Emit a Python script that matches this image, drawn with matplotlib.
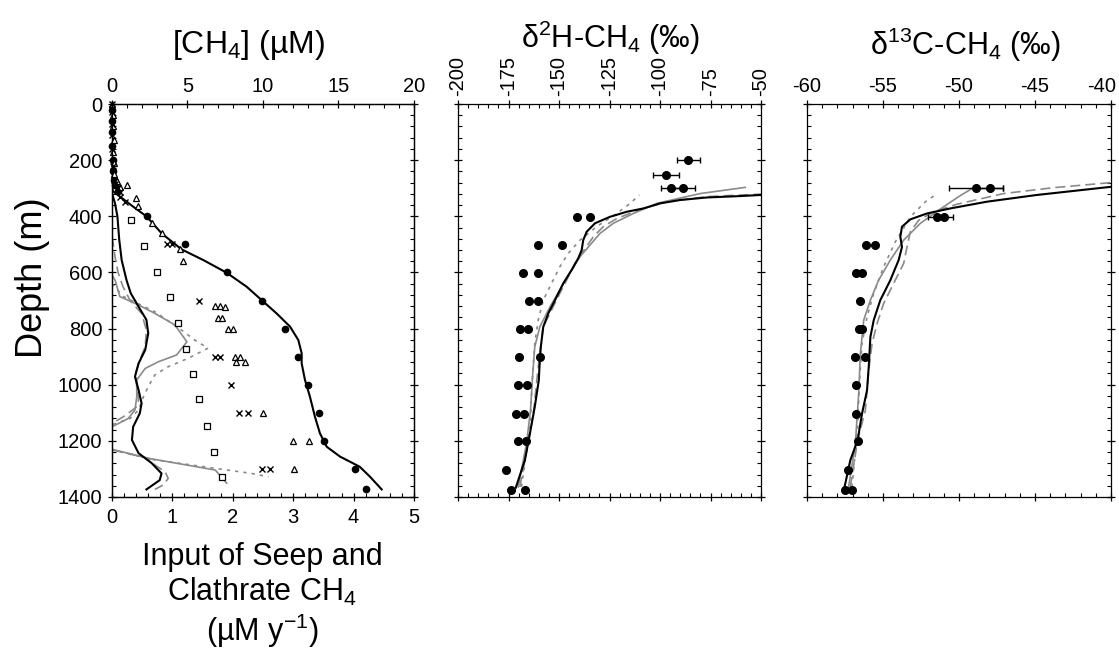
import numpy as np
import matplotlib
matplotlib.use("Agg")
import matplotlib.pyplot as plt
import matplotlib.transforms as mtransforms
from matplotlib.ticker import MultipleLocator

plt.rcParams['font.family'] = ['Liberation Sans', 'DejaVu Sans']
plt.rcParams['mathtext.default'] = 'regular'
plt.rcParams['axes.unicode_minus'] = False

GRAY = '#8a8a8a'

# ---------------- panel 1 : [CH4] (top axis, uM) ----------------
circ_d = [20, 60, 100, 150, 200, 240, 270, 290, 310,
          400, 500, 600, 700, 800, 900, 1000, 1100, 1200, 1300, 1370]
circ_c = [0.02, 0.03, 0.02, 0.03, 0.05, 0.05, 0.1, 0.2, 0.4,
          2.3, 4.83, 7.6, 9.95, 11.46, 12.3, 13.0, 13.7, 14.06, 16.1, 16.8]

tri_d = [0, 40, 80, 130, 170, 210, 250, 275, 295,
         289, 336, 362, 423, 461, 518, 559, 718, 718, 722, 761, 761,
         803, 803, 902, 902, 918, 920, 1102, 1200, 1200, 1301]
tri_c = [0.02, 0.05, 0.05, 0.1, 0.08, 0.1, 0.1, 0.3, 0.5,
         1.01, 1.57, 1.74, 2.63, 3.29, 4.5, 4.68, 6.82, 7.15, 7.5, 7.04, 7.26,
         7.7, 8.0, 8.15, 8.48, 8.19, 8.8, 9.98, 11.96, 13.07, 12.07]

crs_d = [0, 30, 70, 110, 160, 220, 270, 285, 300, 315, 330, 348,
         500, 500, 700, 902, 902, 1001, 1102, 1102, 1301, 1301]
crs_c = [0.0, 0.02, 0.03, 0.02, 0.03, 0.05, 0.1, 0.2, 0.4, 0.5, 0.53, 0.86,
         3.62, 3.95, 5.74, 6.82, 7.15, 7.88, 8.43, 8.99, 9.91, 10.46]

sq_d = [413, 505, 597, 686, 779, 872, 962, 1052, 1146, 1239, 1328]
sq_c = [1.26, 2.12, 3.0, 3.84, 4.39, 4.9, 5.36, 5.78, 6.29, 6.77, 7.26]

conc_d = [300, 312, 330, 366, 401, 461, 518, 556, 601, 651, 701, 746, 793,
          841, 888, 924, 983, 1043, 1114, 1173, 1221, 1256, 1292, 1328, 1373]
conc_c = [0, 0.09, 0.53, 1.41, 2.3, 3.29, 4.61, 6.05, 7.59, 8.92, 9.96, 10.9,
          11.79, 12.34, 12.56, 12.56, 12.78, 13.11, 13.44, 13.77, 14.22, 15.1,
          16.4, 17.09, 17.86]

# input of seep and clathrate CH4 (bottom axis, uM/y)
inp_blk_d = [318, 354, 401, 484, 556, 627, 674, 722, 769, 817, 876, 924, 971,
             1019, 1066, 1102, 1150, 1197, 1244, 1280, 1316, 1340, 1373]
inp_blk_v = [0, 0.05, 0.09, 0.12, 0.16, 0.24, 0.31, 0.44, 0.57, 0.60, 0.55,
             0.44, 0.38, 0.44, 0.49, 0.46, 0.35, 0.33, 0.44, 0.66, 0.82, 0.79, 0.57]

inp_sol1_d = [609, 627, 686, 716, 746, 787, 847, 894, 918, 942, 983, 1043, 1090, 1120, 1150]
inp_sol1_v = [0, 0.05, 0.13, 0.44, 0.71, 1.04, 1.24, 1.07, 0.77, 0.55, 0.41, 0.41, 0.38, 0.27, 0]
inp_sol2_d = [1230, 1262, 1304, 1351]
inp_sol2_v = [0, 0.6, 1.71, 1.9]

inp_dot1_d = [640, 686, 740, 805, 841, 870, 906, 936, 965, 1007, 1043, 1090, 1120, 1143]
inp_dot1_v = [0, 0.19, 0.71, 1.15, 1.37, 1.59, 1.26, 0.93, 0.71, 0.60, 0.52, 0.44, 0.3, 0.0]
inp_dot2_d = [1232, 1266, 1298, 1316, 1328]
inp_dot2_v = [0, 0.66, 1.71, 2.31, 2.59]

inp_dsh1_d = [420, 484, 544, 600, 650, 700, 746, 805, 864, 912, 960, 1007, 1055, 1080, 1110, 1138]
inp_dsh1_v = [0, 0.01, 0.05, 0.10, 0.18, 0.30, 0.49, 0.57, 0.55, 0.46, 0.39, 0.41, 0.44, 0.40, 0.22, 0]
inp_dsh2_d = [1232, 1262, 1286, 1310, 1334, 1357, 1373]
inp_dsh2_v = [0, 0.6, 0.71, 0.88, 0.93, 0.85, 0.71]

# ---------------- panel 2 : d2H-CH4 ----------------
d2h_d = [200, 253, 301, 301, 402, 402, 503, 503, 601, 601, 701, 701, 801, 801,
         901, 901, 1002, 1002, 1103, 1103, 1202, 1202, 1303, 1374, 1374]
d2h_v = [-85.9, -97.0, -94.5, -88.4, -141.3, -134.7, -160.3, -148.7, -167.8, -160.3,
         -164.8, -160.3, -169.1, -165.3, -169.7, -159.5, -170.2, -165.8, -171.4,
         -167.3, -170.2, -166.1, -176.0, -173.9, -166.9]
d2h_err = [5.8, 6.6, 5.1, 5.8]

h_blk_d = [1367, 1269, 1174, 1079, 984, 913, 865, 794, 746, 699, 639, 592, 550,
           521, 485, 455, 425, 402, 384, 372, 354, 342, 333, 328, 324]
h_blk_v = [-171.4, -166.9, -164.4, -162.0, -160.0, -159.5, -159.0, -157.8, -155.3,
           -152.0, -147.9, -143.8, -140.5, -138.8, -138.0, -136.3, -132.2, -124.8,
           -116.5, -108.2, -99.9, -90.0, -76.8, -60.3, -50.0]
h_sol_d = [1364, 1210, 1091, 972, 865, 794, 723, 663, 610, 544, 503, 461, 425, 390, 354, 319, 297]
h_sol_v = [-170.2, -166.1, -164.1, -163.1, -162.0, -159.5, -154.5, -149.6, -145.4,
           -139.6, -134.7, -129.7, -123.1, -113.2, -101.6, -80.1, -57.8]
h_dsh_d = [1364, 1210, 1091, 972, 889, 794, 734, 675, 616, 556, 521, 473, 437, 408, 376, 348, 330, 321]
h_dsh_v = [-169.4, -165.3, -162.5, -160.8, -159.5, -157.8, -153.7, -149.6, -145.4,
           -141.3, -137.7, -133.0, -128.1, -121.4, -109.9, -96.6, -76.8, -50.0]
h_dot_d = [1364, 1150, 972, 853, 770, 699, 639, 580, 532, 485, 437, 390, 354, 324]
h_dot_v = [-168.6, -164.4, -163.1, -162.0, -160.3, -157.8, -153.7, -149.6, -145.4,
           -139.6, -131.4, -121.4, -114.8, -110.2]

# ---------------- panel 3 : d13C-CH4 ----------------
d13c_d = [301, 301, 402, 402, 503, 503, 601, 601, 701, 801, 801, 901, 901,
          1002, 1103, 1202, 1303, 1374, 1374]
d13c_v = [-48.88, -47.98, -51.45, -51.0, -56.12, -55.55, -56.75, -56.38, -56.49,
          -56.6, -56.38, -56.82, -56.21, -56.75, -56.75, -56.67, -57.32, -57.48, -57.04]
d13c_err = [1.8, 0.9, 0.6, 0.6]

c_blk_d = [1367, 1269, 1198, 1103, 1020, 937, 830, 770, 699, 628, 556, 509, 473,
           437, 411, 390, 372, 348, 324, 295]
c_blk_v = [-57.54, -57.15, -56.67, -56.38, -56.05, -55.94, -55.83, -55.61, -55.18,
           -54.52, -53.97, -53.75, -53.86, -53.75, -53.20, -52.11, -50.57, -48.16,
           -44.87, -40.0]
c_dsh_d = [1364, 1198, 1091, 948, 853, 782, 711, 639, 568, 509, 455, 414, 384, 357, 319, 298, 280]
c_dsh_v = [-57.15, -56.67, -56.16, -55.94, -55.72, -55.39, -54.96, -54.30, -53.64,
           -53.42, -53.20, -52.65, -51.67, -50.13, -47.06, -43.77, -40.0]
c_sol_d = [1364, 1210, 1032, 889, 770, 699, 628, 556, 485, 425, 366, 330, 301]
c_sol_v = [-57.26, -56.82, -56.60, -56.49, -56.27, -55.83, -55.29, -54.52, -53.64,
           -52.54, -51.01, -50.02, -49.14]
c_dot_d = [1364, 1150, 984, 853, 758, 675, 580, 491, 402, 348, 324]
c_dot_v = [-57.04, -56.67, -56.54, -56.38, -56.05, -55.61, -54.96, -54.19, -53.20,
           -52.21, -51.56]

W, H = 1119, 652
fig = plt.figure(figsize=(W / 100, H / 100), dpi=100)

TICK_FS = 14.5


def box(x0, x1, y0=104, y1=497):
    return [x0 / W, 1 - y1 / H, (x1 - x0) / W, (y1 - y0) / H]


def style_depth(ax):
    ax.set_ylim(1400, 0)
    ax.yaxis.set_major_locator(MultipleLocator(200))
    ax.yaxis.set_minor_locator(MultipleLocator(40))
    for s in ax.spines.values():
        s.set_linewidth(0.9)
    ax.tick_params(which='major', direction='inout', length=6, width=0.9,
                   labelsize=TICK_FS, top=True, bottom=True, left=True, right=True)
    ax.tick_params(which='minor', direction='in', length=3, width=0.8,
                   top=True, bottom=True, left=True, right=True)


lw_b, lw_g = 1.5, 1.2
dot_ls = (0, (2, 3))
dsh_ls = (0, (6, 3))

# ---- panel 1
ax1 = fig.add_axes(box(112, 414))
style_depth(ax1)
ax1.set_xlim(0, 5)
ax1.xaxis.set_major_locator(MultipleLocator(1))
ax1.xaxis.set_minor_locator(MultipleLocator(0.2))
ax1.tick_params(axis='x', which='both', top=False, labeltop=False)
ax1.tick_params(axis='x', pad=5)
ax1.tick_params(axis='y', pad=4)

ax1.plot(inp_sol1_v, inp_sol1_d, color=GRAY, lw=lw_g)
ax1.plot(inp_sol2_v, inp_sol2_d, color=GRAY, lw=lw_g)
ax1.plot(inp_dot1_v, inp_dot1_d, color=GRAY, lw=lw_g, ls=dot_ls)
ax1.plot(inp_dot2_v, inp_dot2_d, color=GRAY, lw=lw_g, ls=dot_ls)
ax1.plot(inp_dsh1_v, inp_dsh1_d, color=GRAY, lw=lw_g, ls=dsh_ls)
ax1.plot(inp_dsh2_v, inp_dsh2_d, color=GRAY, lw=lw_g, ls=dsh_ls)
ax1.plot(inp_blk_v, inp_blk_d, color='black', lw=lw_b)

ax1t = ax1.twiny()
ax1t.set_xlim(0, 20)
ax1t.set_ylim(1400, 0)
ax1t.xaxis.set_major_locator(MultipleLocator(5))
ax1t.xaxis.set_minor_locator(MultipleLocator(1))
ax1t.tick_params(axis='x', which='major', direction='inout', length=6, width=0.9,
                 labelsize=TICK_FS, pad=3)
ax1t.tick_params(axis='x', which='minor', direction='in', length=3, width=0.8)
for s in ax1t.spines.values():
    s.set_linewidth(0.9)
ax1t.plot(conc_c, conc_d, color='black', lw=lw_b)
ax1t.plot(circ_c, circ_d, 'o', color='black', ms=4.5, clip_on=False)
ax1t.plot(tri_c, tri_d, '^', mfc='white', mec='black', ms=4.5, mew=0.9, clip_on=False)
ax1t.plot(crs_c, crs_d, 'x', color='black', ms=5, mew=1.0, clip_on=False)
ax1t.plot(sq_c, sq_d, 's', mfc='white', mec='black', ms=5, mew=0.9, clip_on=False)

# ---- panel 2
ax2 = fig.add_axes(box(458, 761))
style_depth(ax2)
ax2.set_xlim(-200, -50)
ax2.xaxis.set_major_locator(MultipleLocator(25))
ax2.xaxis.set_minor_locator(MultipleLocator(5))
ax2.tick_params(axis='x', labelbottom=False, labeltop=True, labelrotation=90, pad=3)
ax2.tick_params(axis='y', labelleft=False)
ax2.plot(h_dot_v, h_dot_d, color=GRAY, lw=lw_g, ls=dot_ls)
ax2.plot(h_dsh_v, h_dsh_d, color=GRAY, lw=lw_g, ls=dsh_ls)
ax2.plot(h_sol_v, h_sol_d, color=GRAY, lw=lw_g)
ax2.plot(h_blk_v, h_blk_d, color='black', lw=lw_b)
ax2.plot(d2h_v, d2h_d, 'o', color='black', ms=5.5)
ax2.errorbar(d2h_v[:4], d2h_d[:4], xerr=d2h_err, fmt='none', ecolor='black',
             elinewidth=1.0, capsize=2.5, capthick=1.0)

# ---- panel 3
ax3 = fig.add_axes(box(807, 1111))
style_depth(ax3)
ax3.set_xlim(-60, -40)
ax3.xaxis.set_major_locator(MultipleLocator(5))
ax3.xaxis.set_minor_locator(MultipleLocator(1))
ax3.tick_params(axis='x', labelbottom=False, labeltop=True, pad=3)
ax3.tick_params(axis='y', labelleft=False)
ax3.plot(c_dot_v, c_dot_d, color=GRAY, lw=lw_g, ls=dot_ls)
ax3.plot(c_dsh_v, c_dsh_d, color=GRAY, lw=lw_g, ls=dsh_ls)
ax3.plot(c_sol_v, c_sol_d, color=GRAY, lw=lw_g)
ax3.plot(c_blk_v, c_blk_d, color='black', lw=lw_b)
ax3.plot(d13c_v, d13c_d, 'o', color='black', ms=5.5)
ax3.errorbar(d13c_v[:4], d13c_d[:4], xerr=d13c_err, fmt='none', ecolor='black',
             elinewidth=1.0, capsize=2.5, capthick=1.0)

# keep the "-40" label inside the figure edge
fig.canvas.draw()
shift = mtransforms.ScaledTranslation(-9 / 100, 0, fig.dpi_scale_trans)
last = ax3.xaxis.get_major_ticks()
for t in last:
    if abs(t.get_loc() - (-40)) < 1e-6:
        t.label2.set_transform(t.label2.get_transform() + shift)


# ---- labels
def ftext(x, y, s, **kw):
    fig.text(x / W, 1 - y / H, s, ha='center', va='center', **kw)


ftext(248, 45, '[CH$_4$] (µM)', fontsize=23)
ftext(610, 38, 'δ$^2$H-CH$_4$ (‰)', fontsize=22)
ftext(965, 45, 'δ$^{13}$C-CH$_4$ (‰)', fontsize=22)
ftext(33, 278, 'Depth (m)', fontsize=26, rotation=90)
ftext(262, 596, 'Input of Seep and\nClathrate CH$_4$\n(µM y$^{-1}$)', fontsize=22,
      linespacing=1.15)

fig.savefig('out.png', dpi=100)
